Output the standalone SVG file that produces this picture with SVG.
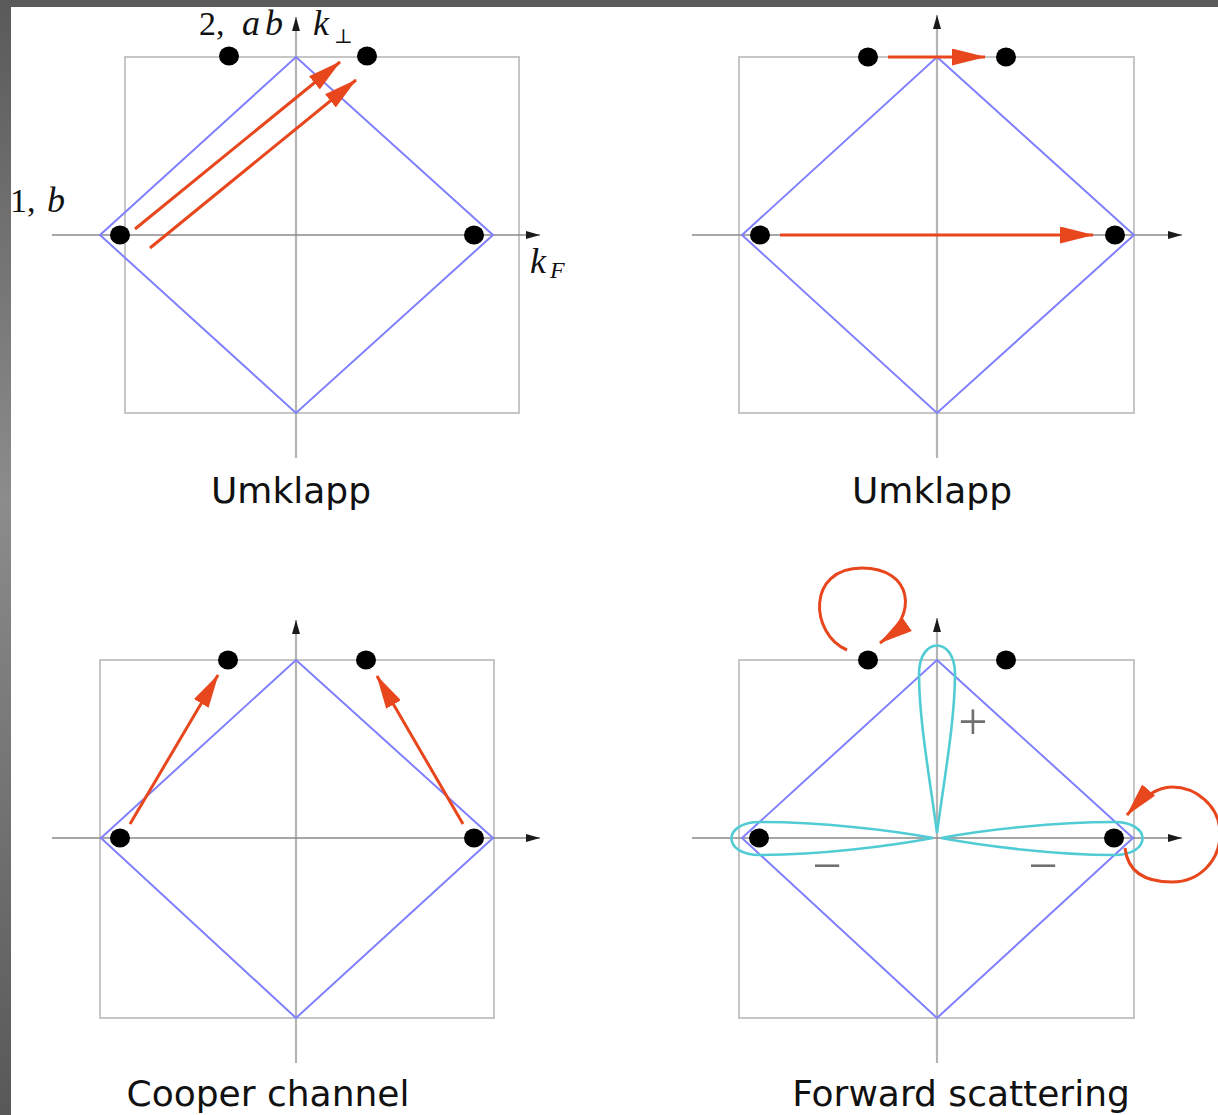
<svg xmlns="http://www.w3.org/2000/svg" width="1218" height="1115" viewBox="0 0 1218 1115">
<defs>
<linearGradient id="side" x1="0" y1="0" x2="0" y2="1">
<stop offset="0" stop-color="#5a5a5a"/>
<stop offset="0.45" stop-color="#8c8c8c"/>
<stop offset="1" stop-color="#585858"/>
</linearGradient>
<marker id="ah" viewBox="0 0 34 17" refX="33" refY="8.5" markerWidth="34" markerHeight="17" orient="auto" markerUnits="userSpaceOnUse">
<path d="M0,0 L34,8.5 L0,17 Z" fill="#e8461c"/>
</marker>
<marker id="ax" viewBox="0 0 14 8" refX="14" refY="4" markerWidth="14" markerHeight="8" orient="auto" markerUnits="userSpaceOnUse">
<path d="M0,0 L14,4 L0,8 Z" fill="#1a1a1a"/>
</marker>
</defs>
<style>
.box{fill:none;stroke:#c6c6c6;stroke-width:2}
.vax{fill:none;stroke:#b4b4b4;stroke-width:2.2;marker-end:url(#ax)}
.hax{fill:none;stroke:#8a8a8a;stroke-width:1.6;marker-end:url(#ax)}
.fs{fill:none;stroke:#8080ff;stroke-width:2}
.lobe{fill:none;stroke:#52ccd4;stroke-width:2.6}
.arr{fill:none;stroke:#e8461c;stroke-width:3;marker-end:url(#ah)}
.dot{fill:#000}
.cap{font-family:"DejaVu Sans",sans-serif;font-size:36px;fill:#111;text-anchor:middle}
.m{font-family:"Liberation Serif",serif;font-size:34px;fill:#111}
.mi{font-family:"Liberation Serif",serif;font-style:italic;font-size:36px;fill:#111}
.sign{font-family:"Liberation Serif",serif;font-size:52px;fill:#707070;text-anchor:middle}
</style>
<rect x="0" y="0" width="1218" height="1115" fill="#ffffff"/>
<rect x="0" y="0" width="11" height="1115" fill="url(#side)"/>
<rect x="0" y="0" width="1218" height="7" fill="#5b5b5b"/>

<g id="panel-umklapp-1">
<rect class="box" x="125" y="57" width="394" height="356"/>
<line class="vax" x1="296" y1="458" x2="296" y2="17"/>
<line class="hax" x1="52" y1="235" x2="540" y2="235"/>
<polygon class="fs" points="296,57 493,235 296,413 100,235"/>
<text class="m" x="199" y="35">2,</text>
<text class="mi" x="242" y="35" letter-spacing="5">ab</text>
<text class="mi" x="313" y="35">k</text>
<text x="334" y="43" style="font-family:'DejaVu Serif',serif;font-size:20px;fill:#111">⊥</text>
<text class="m" x="10" y="212">1,</text>
<text class="mi" x="47" y="212">b</text>
<text class="mi" x="530" y="273">k</text>
<text class="mi" x="550" y="278" style="font-size:24px">F</text>
<text class="cap" x="291" y="503">Umklapp</text>
</g>
<g id="panel-umklapp-2">
<rect class="box" x="739" y="57" width="395" height="356"/>
<line class="vax" x1="937" y1="458" x2="937" y2="15"/>
<line class="hax" x1="692" y1="235" x2="1182" y2="235"/>
<polygon class="fs" points="937,57 1134,235 937,413 742,235"/>
<text class="cap" x="932" y="503">Umklapp</text>
</g>
<g id="panel-cooper">
<rect class="box" x="100" y="660" width="394" height="358"/>
<line class="vax" x1="296" y1="1063" x2="296" y2="620"/>
<line class="hax" x1="52" y1="838" x2="540" y2="838"/>
<polygon class="fs" points="296,660 493,838 296,1018 101,838"/>
<text class="cap" x="268" y="1106">Cooper channel</text>
</g>
<g id="panel-forward">
<rect class="box" x="739" y="660" width="395" height="358"/>
<line class="vax" x1="937" y1="1063" x2="937" y2="618"/>
<line class="hax" x1="692" y1="838" x2="1182" y2="838"/>
<polygon class="fs" points="937,660 1133,838 937,1018 742,838"/>
<g id="lobes">
<path class="lobe" d="M937,833 C930,780 919,720 919,674 C919,636 955,636 955,674 C955,720 944,780 937,833 Z"/>
<path class="lobe" d="M933,838 C890,830 820,822 760,822 C722,822 722,855 760,855 C820,855 890,846 933,838 Z"/>
<path class="lobe" d="M941,838 C984,830 1054,822 1114,822 C1152,822 1152,855 1114,855 C1054,855 984,846 941,838 Z"/>
</g>
<text class="sign" x="973" y="739">+</text>
<text class="sign" x="827" y="883">−</text>
<text class="sign" x="1043" y="883">−</text>
<text class="cap" x="961" y="1106">Forward scattering</text>
</g>

<g id="connectors">
<line class="arr" x1="135" y1="229" x2="340" y2="62"/>
<line class="arr" x1="150" y1="248" x2="356" y2="80"/>
<line class="arr" x1="888" y1="57" x2="985" y2="57"/>
<line class="arr" x1="780" y1="235" x2="1093" y2="235"/>
<line class="arr" x1="130" y1="824" x2="218" y2="675"/>
<line class="arr" x1="463" y1="824" x2="377" y2="676"/>
<path class="arr" d="M847,650 C810,634 806,568 862,568 C912,568 920,615 880,643"/>
<path class="arr" d="M1125,848 C1128,875 1150,882 1172,882 C1200,882 1220,860 1220,834 C1220,805 1195,787 1172,787 C1155,787 1140,800 1127,815"/>
</g>

<g id="dot-p1-a"><ellipse class="dot" cx="229" cy="56" rx="10" ry="9.5"/></g>
<g id="dot-p1-b"><ellipse class="dot" cx="367" cy="56" rx="10" ry="9.5"/></g>
<g id="dot-p1-c"><ellipse class="dot" cx="120" cy="235" rx="10" ry="9.5"/></g>
<g id="dot-p1-d"><ellipse class="dot" cx="474" cy="235" rx="10" ry="9.5"/></g>
<g id="dot-p2-a"><ellipse class="dot" cx="868" cy="57" rx="10" ry="9.5"/></g>
<g id="dot-p2-b"><ellipse class="dot" cx="1006" cy="57" rx="10" ry="9.5"/></g>
<g id="dot-p2-c"><ellipse class="dot" cx="760" cy="235" rx="10" ry="9.5"/></g>
<g id="dot-p2-d"><ellipse class="dot" cx="1115" cy="235" rx="10" ry="9.5"/></g>
<g id="dot-p3-a"><ellipse class="dot" cx="228" cy="660" rx="10" ry="9.5"/></g>
<g id="dot-p3-b"><ellipse class="dot" cx="366" cy="660" rx="10" ry="9.5"/></g>
<g id="dot-p3-c"><ellipse class="dot" cx="120" cy="838" rx="10" ry="9.5"/></g>
<g id="dot-p3-d"><ellipse class="dot" cx="474" cy="838" rx="10" ry="9.5"/></g>
<g id="dot-p4-a"><ellipse class="dot" cx="868" cy="660" rx="10" ry="9.5"/></g>
<g id="dot-p4-b"><ellipse class="dot" cx="1006" cy="660" rx="10" ry="9.5"/></g>
<g id="dot-p4-c"><ellipse class="dot" cx="759" cy="838" rx="10" ry="9.5"/></g>
<g id="dot-p4-d"><ellipse class="dot" cx="1114" cy="838" rx="10" ry="9.5"/></g>
</svg>
